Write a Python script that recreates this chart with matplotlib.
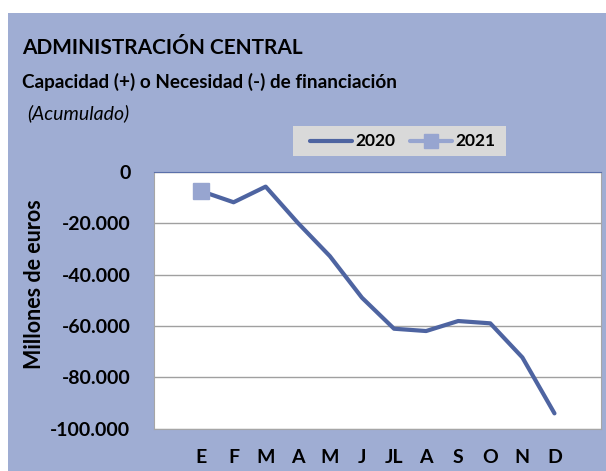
import numpy as np
import matplotlib
matplotlib.use("Agg")
from matplotlib import pyplot as plt
from matplotlib.patches import Rectangle
from matplotlib.ticker import FuncFormatter

# Datos (millones de euros, acumulado)
meses = ['E', 'F', 'M', 'A', 'M', 'J', 'JL', 'A', 'S', 'O', 'N', 'D']
v2020 = [-7500, -11800, -5700, -19800, -32800, -49000, -61100, -62000, -58100, -59000, -72300, -94100]
v2021 = [-7400]
yticks = [0, -20000, -40000, -60000, -80000, -100000]

azul_fondo = '#9FADD3'
azul_linea = '#4E64A1'
azul_claro = '#97A5D0'

plt.rcParams['font.family'] = ['Lato', 'DejaVu Sans']

W, H = 606, 471
fig = plt.figure(figsize=(W / 100, H / 100), dpi=100)
fig.patch.set_facecolor('white')

# blue panel behind everything
fig.patches.append(Rectangle((8 / W, 0), 1 - 8 / W, 1 - 13 / H, transform=fig.transFigure,
                             facecolor=azul_fondo, edgecolor='none', zorder=-5))

ax = fig.add_axes([154 / W, 1 - 428.5 / H, (601 - 154) / W, (428.5 - 172) / H])
ax.set_zorder(1)
ax.set_facecolor('white')

x = np.arange(len(meses))
ax.plot(x, v2020, color=azul_linea, lw=3, solid_capstyle='round', zorder=3)
ax.plot(x[:len(v2021)], v2021, color=azul_claro, lw=3, marker='s', ms=12,
        markerfacecolor=azul_claro, markeredgecolor=azul_claro, zorder=4)

ax.set_xlim(-1.48, 12.45)
ax.set_ylim(-100000, 0)
ax.set_yticks(yticks)
ax.yaxis.set_major_formatter(FuncFormatter(lambda v, p: f"{int(v):,}".replace(',', '.')))
ax.set_xticks(x)
ax.set_xticklabels(meses)
ax.tick_params(length=0, labelsize=14)
for lab in ax.get_xticklabels() + ax.get_yticklabels():
    lab.set_fontweight('bold')
ax.tick_params(axis='x', pad=15)
ax.tick_params(axis='y', pad=17)
ax.grid(axis='y', color='#A0A0A0', lw=1)
ax.set_axisbelow(True)
for s in ['left', 'right', 'bottom']:
    ax.spines[s].set_color('#A6A6A6')
ax.spines['top'].set_color('#5B70AA')

fig.text(35 / W, 1 - 284 / H, 'Millones de euros', rotation=90, ha='center', va='center',
         fontsize=15.5, fontweight='bold')

# titles
fig.text(22 / W, 1 - 48 / H, 'ADMINISTRACIÓN CENTRAL', ha='left', va='center',
         fontsize=15, fontweight='bold')
fig.text(22 / W, 1 - 82 / H, 'Capacidad (+) o Necesidad (-) de financiación', ha='left', va='center',
         fontsize=13.6, fontweight='bold')
fig.text(27 / W, 1 - 113 / H, '(Acumulado)', ha='left', va='center',
         fontsize=14, style='italic')

# legend box
fig.patches.append(Rectangle((293 / W, 1 - 156 / H), 213 / W, 30 / H, transform=fig.transFigure,
                             facecolor='#D9D9D9', edgecolor='none', zorder=1))
ly = 1 - 141 / H
fig.lines.append(plt.Line2D([310 / W, 352 / W], [ly, ly], transform=fig.transFigure,
                            color=azul_linea, lw=3, solid_capstyle='round', zorder=2))
fig.text(355 / W, ly, '2020', ha='left', va='center', fontsize=12.5, fontweight='bold', zorder=3)
fig.lines.append(plt.Line2D([410 / W, 452 / W], [ly, ly], transform=fig.transFigure,
                            color=azul_claro, lw=3, solid_capstyle='round', zorder=2))
fig.lines.append(plt.Line2D([431 / W], [ly], transform=fig.transFigure, marker='s', ms=10,
                            color=azul_claro, zorder=2))
fig.text(455 / W, ly, '2021', ha='left', va='center', fontsize=12.5, fontweight='bold', zorder=3)

plt.savefig('out.png', dpi=100)
